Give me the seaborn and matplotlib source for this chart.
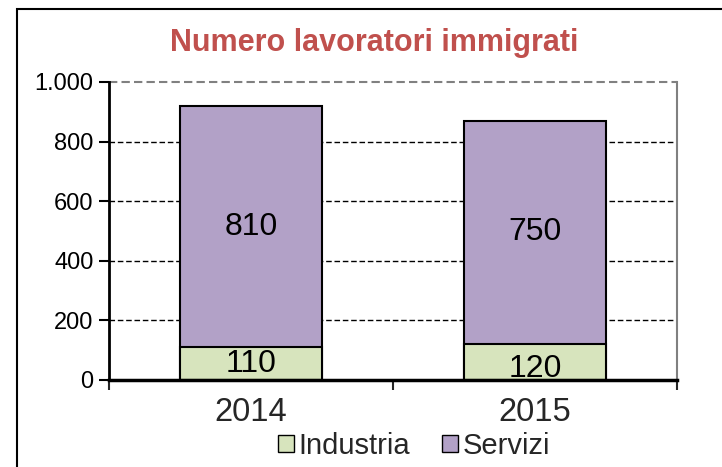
import matplotlib
matplotlib.use("Agg")
import matplotlib.pyplot as plt
import seaborn as sns
import pandas as pd
from matplotlib.patches import Rectangle, Patch
from matplotlib.ticker import FuncFormatter

years = ["2014", "2015"]
industria = [110, 120]
servizi = [810, 750]
yticks = [0, 200, 400, 600, 800, 1000]

sns.set_theme(style="white")
plt.rcParams['font.family'] = ['Liberation Sans', 'DejaVu Sans']

totals = [a + b for a, b in zip(industria, servizi)]
df = pd.DataFrame({"anno": years, "Industria": industria, "Servizi": servizi, "Totale": totals})

fig = plt.figure(figsize=(7.22, 4.67), dpi=100)
ax = fig.add_axes([109/722, 1-380/467, (677-109)/722, (380-82)/467])

green = "#D7E4BD"
purple = "#B2A1C7"

sns.barplot(data=df, x="anno", y="Totale", color=purple, width=0.5, edgecolor="black",
            linewidth=1.5, ax=ax, saturation=1, zorder=3)
sns.barplot(data=df, x="anno", y="Industria", color=green, width=0.5, edgecolor="black",
            linewidth=1.5, ax=ax, saturation=1, zorder=3)

ax.set_ylim(0, 1000)
ax.set_xlim(-0.5, 1.5)
ax.set_yticks(yticks)
ax.yaxis.set_major_formatter(FuncFormatter(lambda v, p: f"{int(v):,}".replace(",", ".")))
ax.tick_params(axis="y", direction="out", length=7, width=1.5, colors="black",
               labelsize=17, pad=4, left=True)
ax.set_xticks([0, 1])
ax.set_xticklabels(years)
ax.set_xticks([-0.5, 0.5, 1.5], minor=True)
ax.tick_params(axis="x", which="major", length=0, labelsize=23.5, pad=12)
ax.tick_params(axis="x", which="minor", direction="out", length=7, width=1.5, bottom=True)
ax.set_xlabel("")
ax.set_ylabel("")

for y in yticks[1:-1]:
    ax.axhline(y, color="black", linestyle=(0, (4, 2)), linewidth=1, zorder=1)
ax.axhline(1000, color="#808080", linestyle=(0, (4, 2)), linewidth=1.5, zorder=1, clip_on=False)

ax.spines["top"].set_visible(False)
ax.spines["right"].set_color("#808080")
ax.spines["right"].set_linewidth(1.5)
ax.spines["left"].set_color("black")
ax.spines["left"].set_linewidth(2)
ax.spines["bottom"].set_color("black")
ax.spines["bottom"].set_linewidth(2.5)
ax.spines["bottom"].set_zorder(5)

for i in range(len(years)):
    ax.text(i, industria[i] + servizi[i] / 2, str(servizi[i]), ha="center", va="center",
            fontsize=23, color="black", zorder=4)
ind_pos = [industria[0] / 2, 36]
for i in range(len(years)):
    ax.text(i, ind_pos[i], str(industria[i]), ha="center", va="center",
            fontsize=23, color="black", zorder=4, clip_on=True)

fig.text(374/722, 1-43/467, "Numero lavoratori immigrati", ha="center", va="center",
         fontsize=22, fontweight="bold", color="#C0504D")

handles = [Patch(facecolor=green, edgecolor="black", linewidth=1, label="Industria"),
           Patch(facecolor=purple, edgecolor="black", linewidth=1, label="Servizi")]
fig.legend(handles=handles, loc="center", bbox_to_anchor=(414/722, 1-446/467), ncol=2,
           frameon=False, fontsize=21, handlelength=0.55, handleheight=0.55,
           handletextpad=0.15, columnspacing=1.1, borderpad=0)

fig.patches.append(Rectangle((17/722, -0.1), 1.2, 1.1 - 9/467, transform=fig.transFigure,
                             fill=False, edgecolor="black", linewidth=1.5, figure=fig))

fig.savefig("out.png", dpi=100)
